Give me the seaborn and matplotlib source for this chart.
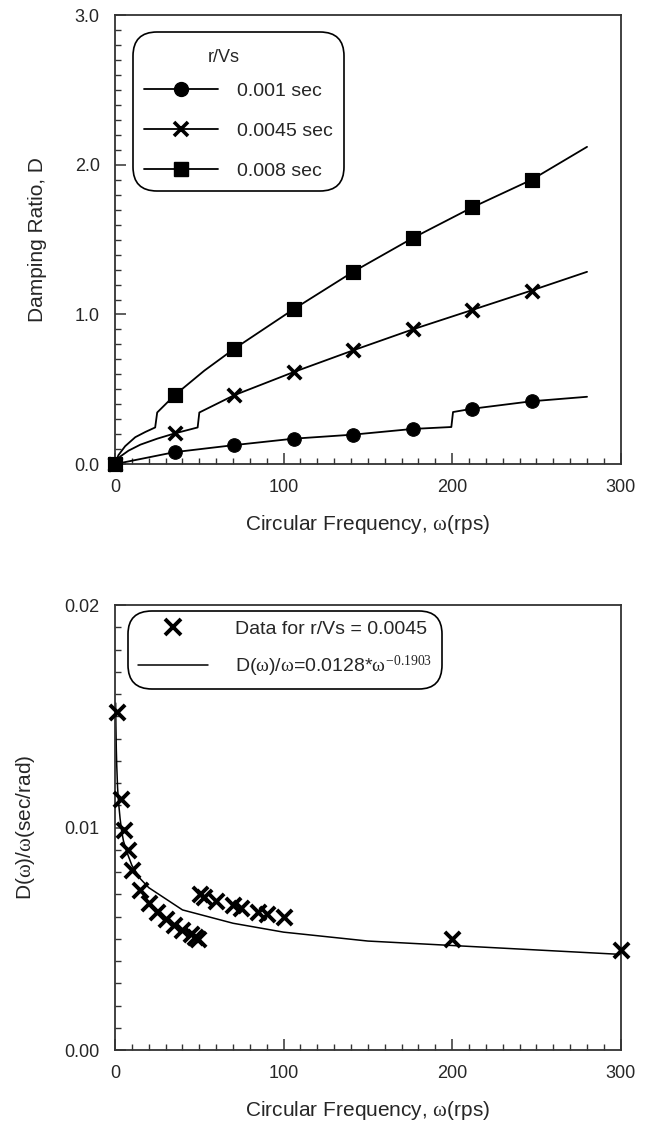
import numpy as np
import pandas as pd
import matplotlib
matplotlib.use("Agg")
import matplotlib.pyplot as plt
import seaborn as sns
from matplotlib.lines import Line2D
from matplotlib.ticker import MultipleLocator, FormatStrFormatter

# ---- top chart: damping ratio vs circular frequency ----
# marker positions (rps) and damping ratios
omega_marks = [0, 35.3, 70.6, 105.9, 141.2, 176.5, 211.8, 247.1]
damp_001 = [0.0, 0.08, 0.127, 0.17, 0.197, 0.235, 0.37, 0.42]
damp_0045 = [0.0, 0.205, 0.46, 0.615, 0.76, 0.90, 1.03, 1.16]
damp_008 = [0.0, 0.46, 0.77, 1.035, 1.285, 1.51, 1.715, 1.90]

# line vertices (the curves have small jumps)
line_w_001 = [0, 35.3, 70.6, 105.9, 141.2, 176.5, 199.5, 200.5, 211.8, 247.1, 280]
line_d_001 = [0, 0.08, 0.127, 0.17, 0.197, 0.235, 0.248, 0.348, 0.37, 0.42, 0.45]
line_w_0045 = [0, 3, 8, 15, 25, 35.3, 49, 50, 70.6, 105.9, 141.2, 176.5, 211.8, 247.1, 280]
line_d_0045 = [0, 0.05, 0.09, 0.13, 0.17, 0.205, 0.245, 0.345, 0.46, 0.615, 0.76, 0.90, 1.03, 1.16, 1.285]
line_w_008 = [0, 2, 6, 12, 18, 23.8, 25, 35.3, 53, 70.6, 105.9, 141.2, 176.5, 211.8, 247.1, 280]
line_d_008 = [0, 0.06, 0.12, 0.18, 0.215, 0.245, 0.345, 0.46, 0.625, 0.77, 1.035, 1.285, 1.51, 1.715, 1.90, 2.12]

# ---- bottom chart: D(w)/w data for r/Vs = 0.0045 ----
omega_data = [1, 3.5, 5.5, 7.5, 10, 15, 20, 25, 30, 35, 40, 45, 47.5, 49.5,
              50.5, 53, 60, 70, 75, 85, 90, 100, 200, 300]
ratio_data = [0.0152, 0.0113, 0.0099, 0.0090, 0.0081, 0.0072, 0.0066, 0.0062,
              0.0059, 0.0056, 0.0054, 0.0052, 0.0051, 0.0050,
              0.0070, 0.0069, 0.0067, 0.0065, 0.0064, 0.0062, 0.0061, 0.0060,
              0.0050, 0.0045]

# fitted curve as drawn
fit_w = [0.35, 0.5, 0.75, 1, 1.5, 2, 3, 4, 5, 7, 10, 15, 20, 30, 40, 50, 70,
         100, 150, 200, 250, 300]
fit_d = [0.0156, 0.0146, 0.0135, 0.0128, 0.0118, 0.0112, 0.0104, 0.0098,
         0.0094, 0.0089, 0.0083, 0.0077, 0.0073, 0.0068, 0.0063, 0.0061,
         0.0057, 0.0053, 0.0049, 0.0047, 0.0045, 0.0043]

sns.set_theme(style="ticks")
plt.rcParams['font.family'] = ['Liberation Sans', 'DejaVu Sans']
plt.rcParams['mathtext.fontset'] = 'custom'
plt.rcParams['mathtext.rm'] = 'Liberation Serif'
plt.rcParams['mathtext.it'] = 'Liberation Serif'
plt.rcParams['mathtext.bf'] = 'Liberation Serif:bold'

fig = plt.figure(figsize=(6.5, 11.32), dpi=100)
ax1 = fig.add_axes([0.177, 0.590, 0.778, 0.3966])
ax2 = fig.add_axes([0.177, 0.0724, 0.778, 0.393])

lbl_size = 15
tick_size = 13

# top chart lines
for lw_, ld_ in [(line_w_001, line_d_001), (line_w_0045, line_d_0045), (line_w_008, line_d_008)]:
    sns.lineplot(x=lw_, y=ld_, ax=ax1, color='black', lw=1.3, sort=False,
                 estimator=None, legend=False)

# top chart markers
sns.scatterplot(x=omega_marks, y=damp_001, ax=ax1, marker='o', s=95,
                color='black', edgecolor='black', legend=False, zorder=5, clip_on=False)
sns.scatterplot(x=omega_marks, y=damp_0045, ax=ax1, marker='x', s=95,
                color='black', linewidth=2.6, legend=False, zorder=5, clip_on=False)
sns.scatterplot(x=omega_marks, y=damp_008, ax=ax1, marker='s', s=110,
                color='black', edgecolor='black', legend=False, zorder=5, clip_on=False)

ax1.set_xlim(0, 300)
ax1.set_ylim(0, 3.0)
ax1.xaxis.set_major_locator(MultipleLocator(100))
ax1.xaxis.set_minor_locator(MultipleLocator(10))
ax1.yaxis.set_major_locator(MultipleLocator(1.0))
ax1.yaxis.set_minor_locator(MultipleLocator(0.1))
ax1.yaxis.set_major_formatter(FormatStrFormatter('%.1f'))
ax1.set_xlabel(r'Circular Frequency, $\omega$(rps)', fontsize=lbl_size, labelpad=12)
ax1.set_ylabel('Damping Ratio, D', fontsize=lbl_size, labelpad=20)

handles1 = [
    Line2D([], [], color='black', lw=1.3, marker='o', ms=10),
    Line2D([], [], color='black', lw=1.3, marker='x', ms=10, mew=2.6),
    Line2D([], [], color='black', lw=1.3, marker='s', ms=10),
]
leg1 = ax1.legend(handles1, ['0.001 sec', '0.0045 sec', '0.008 sec'],
                  loc='upper left', bbox_to_anchor=(0.036, 0.962),
                  title=' ', title_fontsize=13, fontsize=14, frameon=True,
                  fancybox=True, framealpha=1, edgecolor='black',
                  handlelength=3.8, handletextpad=1.0, labelspacing=1.15,
                  borderpad=0.55, borderaxespad=0)
leg1.get_frame().set_linewidth(1.2)
leg1.get_frame().set_boxstyle('round', pad=0.0, rounding_size=1.2)
leg1.set_zorder(6)
ax1.text(0.184, 0.906, 'r/Vs', transform=ax1.transAxes, fontsize=13,
         ha='left', va='center', zorder=10)

# bottom chart
sns.lineplot(x=fit_w, y=fit_d, ax=ax2, color='black', lw=1.1, sort=False,
             estimator=None, legend=False)
sns.scatterplot(x=omega_data, y=ratio_data, ax=ax2, marker='x', s=120,
                color='black', linewidth=2.8, legend=False, zorder=5, clip_on=False)

ax2.set_xlim(0, 300)
ax2.set_ylim(0, 0.02)
ax2.xaxis.set_major_locator(MultipleLocator(100))
ax2.xaxis.set_minor_locator(MultipleLocator(10))
ax2.yaxis.set_major_locator(MultipleLocator(0.01))
ax2.yaxis.set_minor_locator(MultipleLocator(0.001))
ax2.yaxis.set_major_formatter(FormatStrFormatter('%.2f'))
ax2.set_xlabel(r'Circular Frequency, $\omega$(rps)', fontsize=lbl_size, labelpad=12)
ax2.set_ylabel(r'D($\omega$)/$\omega$(sec/rad)', fontsize=lbl_size, labelpad=20)

handles2 = [
    Line2D([], [], color='black', lw=0, marker='x', ms=11, mew=2.8),
    Line2D([], [], color='black', lw=1.1),
]
leg2 = ax2.legend(handles2, ['Data for r/Vs = 0.0045',
                             r'D($\omega$)/$\omega$=0.0128*$\omega^{\mathrm{-0.1903}}$'],
                  loc='upper left', bbox_to_anchor=(0.026, 0.987),
                  fontsize=14, frameon=True, fancybox=True, framealpha=1,
                  edgecolor='black', handlelength=3.6, handletextpad=1.4,
                  labelspacing=0.8, borderpad=0.5, borderaxespad=0)
leg2.get_frame().set_linewidth(1.2)
leg2.get_frame().set_boxstyle('round', pad=0.0, rounding_size=1.2)

for ax in (ax1, ax2):
    for sp in ax.spines.values():
        sp.set_color('#333333')
        sp.set_linewidth(1.3)
    ax.tick_params(which='both', direction='in', top=False, right=False,
                   labelsize=tick_size, color='#333333', pad=11)
    ax.tick_params(which='major', length=8, width=1.1)
    ax.tick_params(which='minor', length=4, width=1.0)

fig.savefig('out.png', dpi=100, facecolor='white')
